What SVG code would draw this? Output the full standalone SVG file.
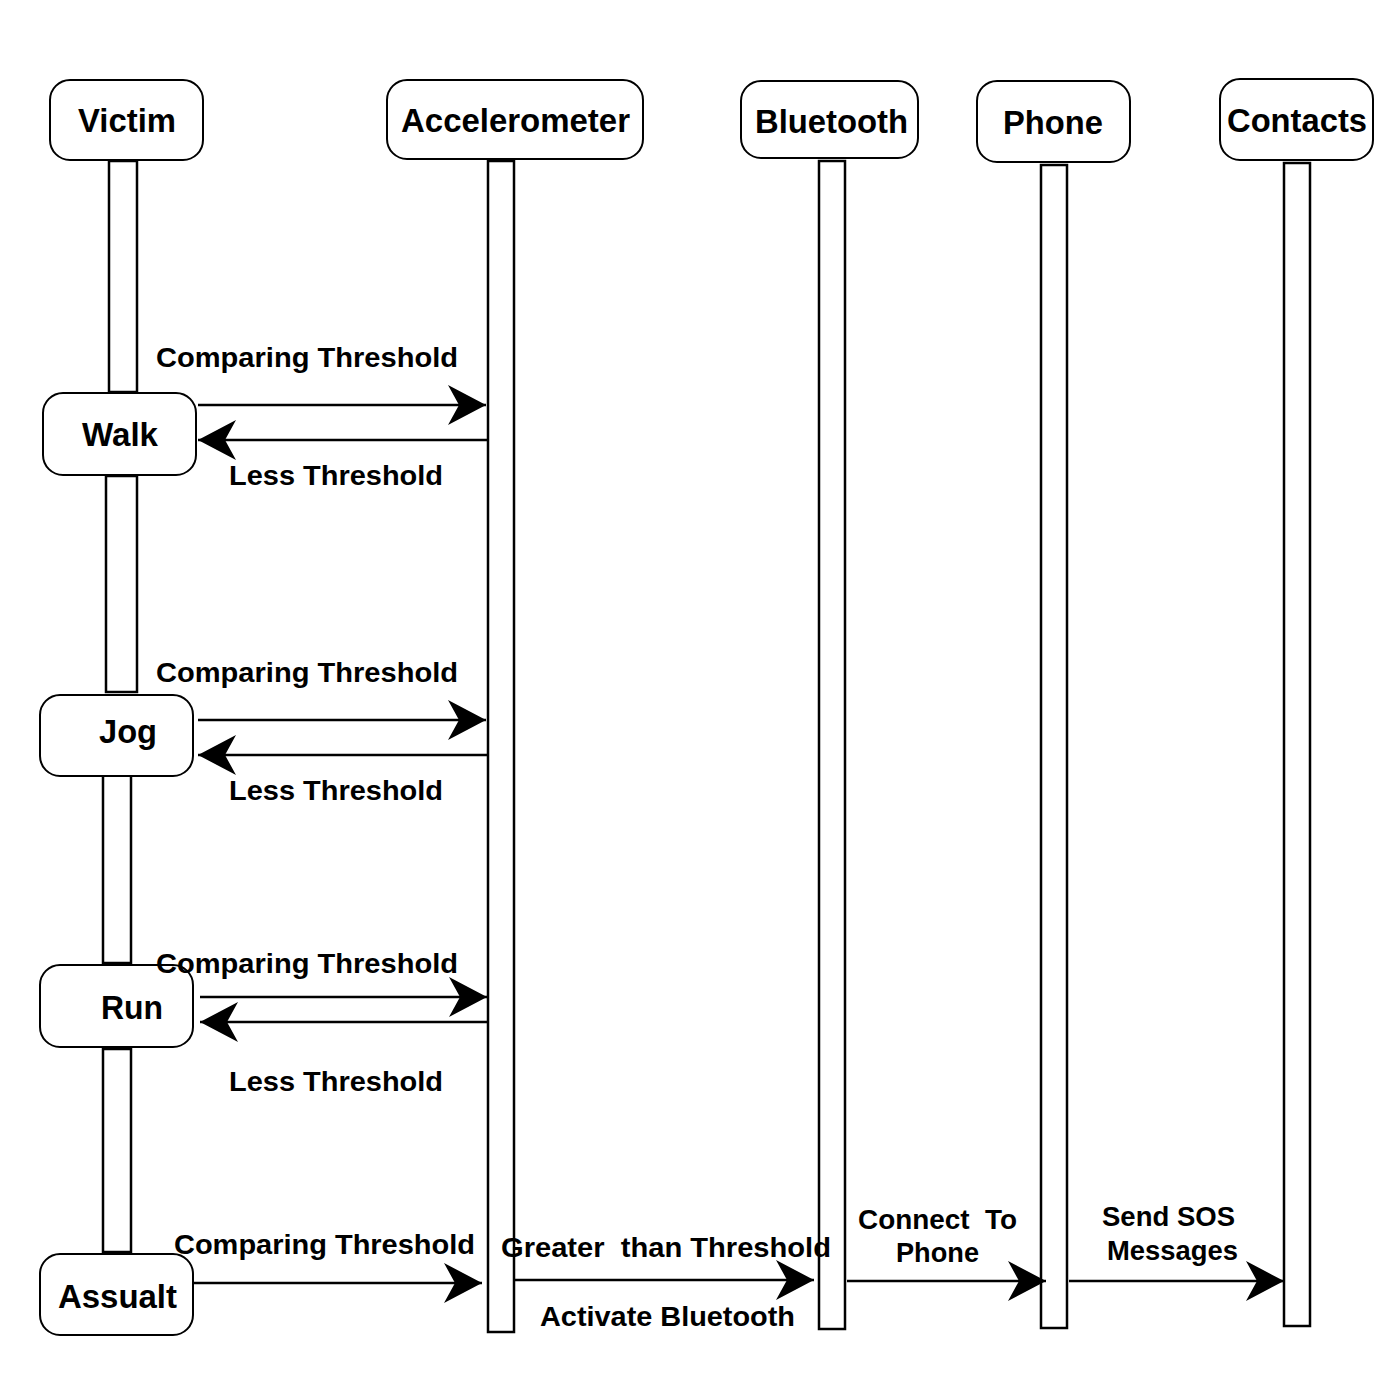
<svg xmlns="http://www.w3.org/2000/svg" width="1388" height="1388" viewBox="0 0 1388 1388">
<style>
.box{fill:#fff;stroke:#000;stroke-width:2}
.bar{fill:#fff;stroke:#000;stroke-width:2.5}
.hd{font-family:"Liberation Sans",Arial,sans-serif;font-weight:bold;font-size:33px;fill:#000;text-anchor:middle}
.lb{font-family:"Liberation Sans",Arial,sans-serif;font-weight:bold;font-size:28px;fill:#000;text-anchor:middle;white-space:pre}
.msg{fill:none;stroke:#000;stroke-width:2.5;marker-end:url(#ah)}
</style>
<defs>
<marker id="ah" viewBox="0 0 38 40" refX="38" refY="20" markerWidth="38" markerHeight="40" markerUnits="userSpaceOnUse" orient="auto">
<path d="M0,0 L38,20 L0,40 L11,20 Z" fill="#000"/>
</marker>
</defs>
<rect width="1388" height="1388" fill="#fff"/>

<g id="lifelines">
<rect class="bar" x="109" y="161" width="28" height="231"/>
<rect class="bar" x="106" y="476" width="31" height="216"/>
<rect class="bar" x="103" y="774" width="28" height="189"/>
<rect class="bar" x="103" y="1049" width="28" height="203"/>
<rect class="bar" x="488" y="161" width="26" height="1171"/>
<rect class="bar" x="819" y="161" width="26" height="1168"/>
<rect class="bar" x="1041" y="165" width="26" height="1163"/>
<rect class="bar" x="1284" y="163" width="26" height="1163"/>
</g>

<g id="victim"><rect class="box" x="50" y="80" width="153" height="80" rx="20"/><text class="hd" x="127" y="132" textLength="98" lengthAdjust="spacingAndGlyphs">Victim</text></g>
<g id="accelerometer"><rect class="box" x="387" y="80" width="256" height="79" rx="20"/><text class="hd" x="515.5" y="132" textLength="229" lengthAdjust="spacingAndGlyphs">Accelerometer</text></g>
<g id="bluetooth"><rect class="box" x="741" y="81" width="177" height="77" rx="20"/><text class="hd" x="831.5" y="133" textLength="153" lengthAdjust="spacingAndGlyphs">Bluetooth</text></g>
<g id="phone"><rect class="box" x="977" y="81" width="153" height="81" rx="20"/><text class="hd" x="1053" y="134" textLength="100" lengthAdjust="spacingAndGlyphs">Phone</text></g>
<g id="contacts"><rect class="box" x="1220" y="79" width="153" height="81" rx="20"/><text class="hd" x="1297" y="132" textLength="140" lengthAdjust="spacingAndGlyphs">Contacts</text></g>

<g id="walk"><rect class="box" x="43" y="393" width="153" height="82" rx="20"/><text class="hd" x="120" y="446" textLength="76" lengthAdjust="spacingAndGlyphs">Walk</text></g>
<g id="jog"><rect class="box" x="40" y="695" width="153" height="81" rx="20"/><text class="hd" x="128" y="743" textLength="58" lengthAdjust="spacingAndGlyphs">Jog</text></g>
<g id="run"><rect class="box" x="40" y="965" width="153" height="82" rx="20"/><text class="hd" x="132" y="1019" textLength="62" lengthAdjust="spacingAndGlyphs">Run</text></g>
<g id="assault"><rect class="box" x="40" y="1254" width="153" height="81" rx="20"/><text class="hd" x="117.5" y="1308" textLength="119" lengthAdjust="spacingAndGlyphs">Assualt</text></g>

<g id="connectors">
<line class="msg" x1="198" y1="405" x2="486" y2="405"/>
<line class="msg" x1="487" y1="440" x2="198" y2="440"/>
<line class="msg" x1="198" y1="720" x2="486" y2="720"/>
<line class="msg" x1="487" y1="755" x2="198" y2="755"/>
<line class="msg" x1="200" y1="997" x2="487" y2="997"/>
<line class="msg" x1="488" y1="1022" x2="200" y2="1022"/>
<line class="msg" x1="194" y1="1283" x2="482" y2="1283"/>
<line class="msg" x1="515" y1="1280" x2="814" y2="1280"/>
<line class="msg" x1="847" y1="1281" x2="1046" y2="1281"/>
<line class="msg" x1="1069" y1="1281" x2="1284" y2="1281"/>
</g>

<g id="labels">
<text class="lb" x="307" y="367" textLength="302" lengthAdjust="spacingAndGlyphs">Comparing Threshold</text>
<text class="lb" x="336" y="485" textLength="214" lengthAdjust="spacingAndGlyphs">Less Threshold</text>
<text class="lb" x="307" y="682" textLength="302" lengthAdjust="spacingAndGlyphs">Comparing Threshold</text>
<text class="lb" x="336" y="800" textLength="214" lengthAdjust="spacingAndGlyphs">Less Threshold</text>
<text class="lb" x="307" y="973" textLength="302" lengthAdjust="spacingAndGlyphs">Comparing Threshold</text>
<text class="lb" x="336" y="1091" textLength="214" lengthAdjust="spacingAndGlyphs">Less Threshold</text>
<text class="lb" x="324.5" y="1254" textLength="301" lengthAdjust="spacingAndGlyphs">Comparing Threshold</text>
<text class="lb" x="666" y="1257" textLength="330" lengthAdjust="spacingAndGlyphs" xml:space="preserve">Greater  than Threshold</text>
<text class="lb" x="667.5" y="1326" textLength="255" lengthAdjust="spacingAndGlyphs">Activate Bluetooth</text>
<text class="lb" x="937.5" y="1229" textLength="159" lengthAdjust="spacingAndGlyphs" xml:space="preserve">Connect  To</text>
<text class="lb" x="937.5" y="1262" textLength="83" lengthAdjust="spacingAndGlyphs">Phone</text>
<text class="lb" x="1168.5" y="1226" textLength="133" lengthAdjust="spacingAndGlyphs">Send SOS</text>
<text class="lb" x="1172.5" y="1260" textLength="131" lengthAdjust="spacingAndGlyphs">Messages</text>
</g>
</svg>
